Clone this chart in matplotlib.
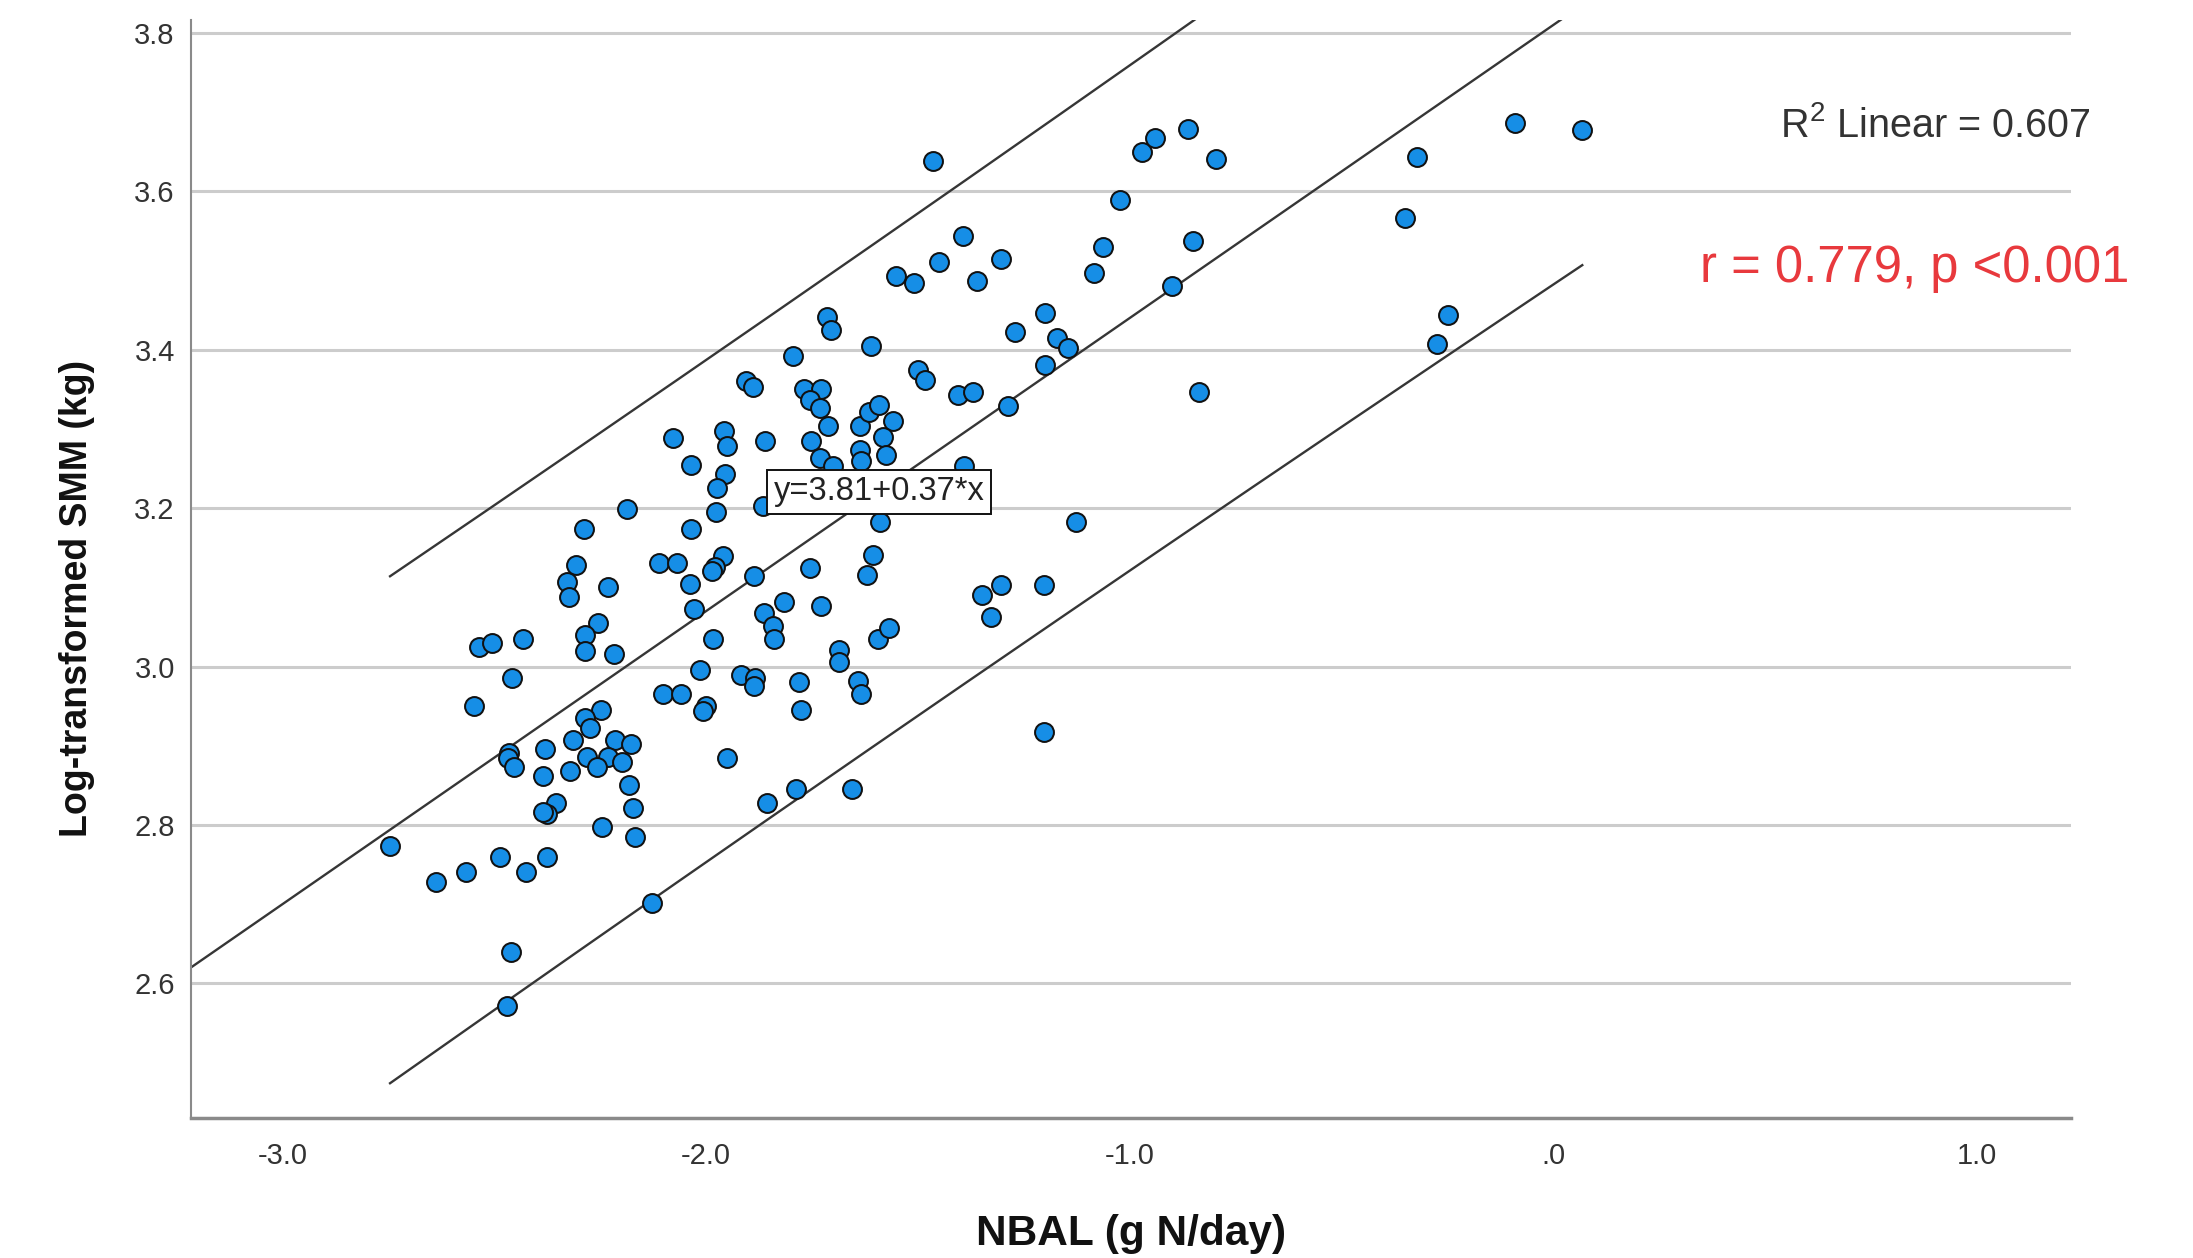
import numpy as np
import matplotlib
matplotlib.use("Agg")
import matplotlib.pyplot as plt

plt.rcParams['font.family'] = ['Liberation Sans', 'DejaVu Sans']
plt.rcParams['mathtext.fontset'] = 'custom'
plt.rcParams['mathtext.rm'] = 'Liberation Sans'
plt.rcParams['mathtext.it'] = 'Liberation Sans:italic'
plt.rcParams['mathtext.bf'] = 'Liberation Sans:bold'

# NBAL (g N/day)
nbal = [
    -2.329, -2.323, -2.231, -2.038, -2.028, -2.254, -2.285, -2.285, -2.217, -2.536,
    -2.505, -2.431, -1.983, -1.863, -1.841, -1.839, -2.457, -2.548, -2.014, -1.917,
    -1.884, -1.887, -2.101, -2.060, -2.001, -2.006, -2.249, -2.286, -2.274, -2.313,
    -2.216, -2.176, -2.465, -2.467, -2.453, -2.379, -2.282, -2.231, -2.258, -2.198,
    -2.320, -2.384, -1.951, -2.183, -2.354, -2.376, -2.386, -2.172, -2.245, -2.168,
    -1.855, -2.746, -2.638, -2.567, -2.486, -2.426, -2.375, -2.128, -2.461, -2.471,
    -1.906, -1.888, -2.079, -1.957, -1.951, -1.861, -2.035, -1.954, -1.973, -2.187,
    -1.866, -1.976, -2.288, -2.035, -1.959, -1.979, -1.987, -2.307, -2.110, -2.069,
    -1.886,
    -1.817, -1.728, -1.685, -1.685, -1.595, -1.569, -1.640, -1.635, -1.780, -1.776,
    -1.348, -1.303, -1.201, -1.328, -1.203, -1.788, -1.656,
    -1.465, -0.971, -0.940, -0.796, -1.022, -0.849, -1.394, -1.451, -1.551, -1.510,
    -1.359, -1.304, -1.062, -1.085, -0.900, -1.715, -1.706, -1.611, -1.795, -1.200,
    -1.270, -1.172, -1.145, -1.200, -1.499, -1.483, -1.404, -1.370, -1.288, -0.835,
    -1.769, -1.729, -1.754, -1.732, -1.711, -1.751, -1.732, -1.699, -1.636, -1.614,
    -1.591, -1.559, -1.583, -1.636, -1.634, -1.575, -1.392, -1.589, -1.605, -1.619,
    -1.754, -1.126,
    -0.322, -0.349, -0.090, 0.069, -0.247, -0.275, -0.861,
]

# log-transformed SMM (kg)
smm = [
    3.107, 3.088, 3.100, 3.104, 3.073, 3.055, 3.040, 3.020, 3.016, 3.025,
    3.030, 3.035, 3.035, 3.068, 3.051, 3.035, 2.986, 2.950, 2.996, 2.990,
    2.985, 2.976, 2.965, 2.965, 2.950, 2.944, 2.945, 2.935, 2.923, 2.907,
    2.907, 2.902, 2.891, 2.884, 2.873, 2.896, 2.886, 2.886, 2.873, 2.879,
    2.868, 2.862, 2.885, 2.851, 2.828, 2.814, 2.817, 2.821, 2.797, 2.785,
    2.828, 2.773, 2.728, 2.741, 2.760, 2.740, 2.760, 2.702, 2.639, 2.572,
    3.361, 3.353, 3.289, 3.298, 3.278, 3.285, 3.255, 3.243, 3.226, 3.199,
    3.203, 3.195, 3.174, 3.174, 3.140, 3.126, 3.121, 3.128, 3.131, 3.131,
    3.115,
    3.082, 3.077, 3.021, 3.006, 3.035, 3.049, 2.982, 2.965, 2.981, 2.945,
    3.091, 3.103, 3.103, 3.063, 2.918, 2.845, 2.845,
    3.638, 3.650, 3.668, 3.641, 3.589, 3.537, 3.544, 3.511, 3.493, 3.484,
    3.487, 3.515, 3.530, 3.497, 3.480, 3.442, 3.425, 3.405, 3.392, 3.447,
    3.422, 3.415, 3.402, 3.381, 3.375, 3.362, 3.343, 3.347, 3.329, 3.347,
    3.351, 3.351, 3.337, 3.326, 3.304, 3.285, 3.263, 3.253, 3.304, 3.322,
    3.330, 3.310, 3.290, 3.274, 3.260, 3.267, 3.253, 3.182, 3.141, 3.116,
    3.124, 3.183,
    3.643, 3.567, 3.687, 3.677, 3.444, 3.407, 3.679,
]

# fit reported on the chart
intercept = 3.81
slope = 0.37
r2_label = "0.607"
stats_label = "r = 0.779, p <0.001"

x_ticks = [-3.0, -2.0, -1.0, 0.0, 1.0]
x_tick_labels = ['-3.0', '-2.0', '-1.0', '.0', '1.0']
y_ticks = [2.6, 2.8, 3.0, 3.2, 3.4, 3.6, 3.8]
y_tick_labels = ['2.6', '2.8', '3.0', '3.2', '3.4', '3.6', '3.8']

x = np.array(nbal)
y = np.array(smm)

fig = plt.figure(figsize=(21.93, 12.58), dpi=100)
ax = fig.add_axes([0.0870, 0.1113, 0.8574, 0.8728])

xlim = (-3.2165, 1.2231)
ylim = (2.430, 3.8165)

# regression line over the whole x range
xx = np.linspace(xlim[0], xlim[1], 200)
ax.plot(xx, intercept + slope * xx, color='#363636', lw=1.7, zorder=2)

# 95% individual prediction interval
n = len(x)
res = y - (intercept + slope * x)
s = np.sqrt(np.sum(res ** 2) / (n - 2))
sxx = np.sum((x - x.mean()) ** 2)
xp = np.linspace(x.min(), x.max(), 200)
hw = 1.975 * s * np.sqrt(1 + 1 / n + (xp - x.mean()) ** 2 / sxx)
ax.plot(xp, intercept + slope * xp + hw, color='#363636', lw=1.7, zorder=2)
ax.plot(xp, intercept + slope * xp - hw, color='#363636', lw=1.7, zorder=2)

ax.scatter(x, y, s=185, c='#168ee6', edgecolors='#111111', linewidths=1.45, zorder=3)

ax.text(-1.592, 3.2206, 'y=3.81+0.37*x', fontsize=23.5, color='#222222',
        ha='center', va='center', zorder=5,
        bbox=dict(boxstyle='square,pad=0.2', fc='white', ec='#111111', lw=1.4))

ax.set_xlim(xlim)
ax.set_ylim(ylim)
ax.set_xticks(x_ticks)
ax.set_xticklabels(x_tick_labels)
ax.set_yticks(y_ticks)
ax.set_yticklabels(y_tick_labels)
ax.tick_params(axis='both', length=0, labelsize=21, labelcolor='#333333')
ax.tick_params(axis='x', pad=17)
ax.tick_params(axis='y', pad=11.5)
ax.yaxis.grid(True, color='#cccccc', lw=2.2)
ax.set_axisbelow(True)

for side in ['top', 'right']:
    ax.spines[side].set_visible(False)
ax.spines['left'].set_color('#8a8a8a')
ax.spines['left'].set_linewidth(1.5)
ax.spines['bottom'].set_color('#8a8a8a')
ax.spines['bottom'].set_linewidth(2.5)

fig.text(0.5157, 0.0103, 'NBAL (g N/day)', fontsize=30.5, fontweight='bold',
         color='#111111', ha='center', va='baseline')
fig.text(0.0351, 0.5246, 'Log-transformed SMM (kg)', fontsize=27, fontweight='bold',
         color='#111111', ha='center', va='center', rotation=90)

fig.text(0.8117, 0.8911, r'R$^{\mathrm{2}}$ Linear = ' + r2_label, fontsize=28.5,
         color='#333333', ha='left', va='baseline')
fig.text(0.7752, 0.7762, stats_label, fontsize=36.5, color='#e8393d',
         ha='left', va='baseline')

fig.savefig('out.png', dpi=100, facecolor='white')
